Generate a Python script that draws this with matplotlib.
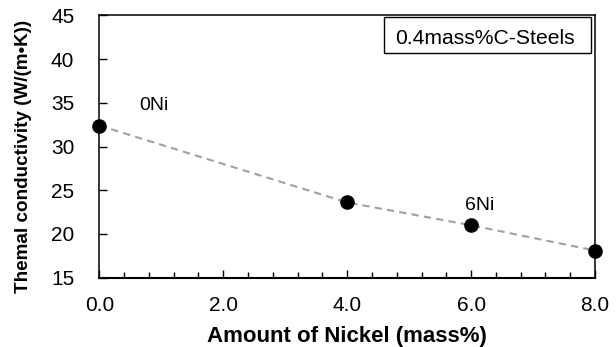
import matplotlib
matplotlib.use("Agg")
import matplotlib.pyplot as plt
from matplotlib.patches import Rectangle
from matplotlib.ticker import MultipleLocator

plt.rcParams["font.family"] = ["Liberation Sans", "DejaVu Sans"]

# Nickel content (mass%) and measured thermal conductivity (W/(m·K))
nickel = [0.0, 4.0, 6.0, 8.0]
conductivity = [32.4, 23.6, 21.0, 18.1]

# Point annotations: (text, x, y)
annotations = [("0Ni", 0.65, 34.65), ("6Ni", 5.90, 23.2)]

x_ticks = [0.0, 2.0, 4.0, 6.0, 8.0]
x_tick_labels = ["0.0", "2.0", "4.0", "6.0", "8.0"]
y_ticks = [15, 20, 25, 30, 35, 40, 45]

fig = plt.figure(figsize=(6.16, 3.47), dpi=100)
ax = fig.add_axes([0.1612, 0.1997, 0.966 - 0.1612, 0.9559 - 0.1997])

ax.plot(nickel, conductivity, color="#a0a0a0", lw=1.5, dashes=(3.5, 2.5),
        zorder=2, clip_on=False)
ax.plot(nickel, conductivity, linestyle="none", marker="o", ms=9.5,
        color="black", zorder=3, clip_on=False)

for text, x, y in annotations:
    ax.text(x, y, text, fontsize=14, ha="left", va="center", color="black")

ax.set_xlim(0, 8)
ax.set_ylim(15, 45)
ax.set_xticks(x_ticks)
ax.set_xticklabels(x_tick_labels)
ax.set_yticks(y_ticks)
ax.xaxis.set_minor_locator(MultipleLocator(0.4))

ax.tick_params(axis="x", which="major", direction="in", length=6, width=1.0,
               labelsize=15, pad=13.5)
ax.tick_params(axis="x", which="minor", direction="in", length=4, width=1.0)
ax.tick_params(axis="y", which="major", direction="in", length=5.5, width=1.0,
               labelsize=15, pad=18)
ax.tick_params(top=False, right=False)

for side in ["left", "top", "right"]:
    ax.spines[side].set_linewidth(1.1)
ax.spines["bottom"].set_linewidth(1.5)

ax.set_xlabel("Amount of Nickel (mass%)", fontsize=16, fontweight="bold",
              labelpad=7.5)
ax.set_ylabel("Themal conductivity (W/(m•K))", fontsize=13.6,
              fontweight="bold")
ax.yaxis.set_label_coords(-0.136, 0.462)

# Series caption in a framed box at the upper right
ax.add_patch(Rectangle((0.575, 0.8552), 0.992 - 0.575, 0.9924 - 0.8552,
                       transform=ax.transAxes, facecolor="white",
                       edgecolor="black", linewidth=1.0, zorder=4))
ax.text(0.5965, 0.8906, "0.4mass%C-Steels", transform=ax.transAxes,
        fontsize=15.2, ha="left", va="baseline", zorder=5)

fig.savefig("out.png", dpi=100)
